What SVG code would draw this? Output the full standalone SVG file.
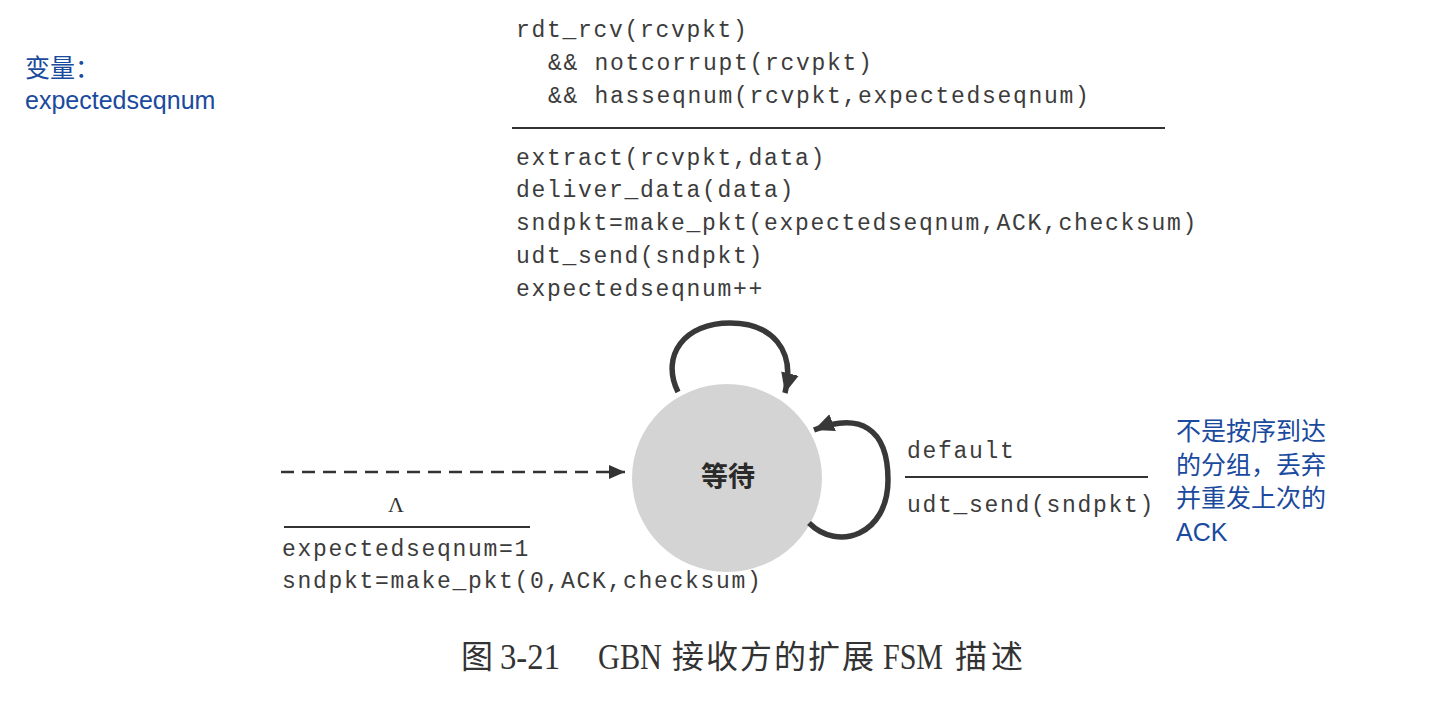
<svg xmlns="http://www.w3.org/2000/svg" width="1432" height="702" viewBox="0 0 1432 702">
<style>
.mono{font-family:"Liberation Mono","DejaVu Sans Mono",monospace;font-size:23px;letter-spacing:1.7px;fill:#3c3c3c}
.blue{font-family:"Liberation Sans","Noto Sans CJK SC",sans-serif;font-size:25px;fill:#1a4a9e}
.rule{stroke:#333;stroke-width:2.2}
.loop{fill:none;stroke:#383838;stroke-width:5.5}
.cap{font-family:"Liberation Serif","Noto Sans CJK SC",serif;font-size:36px;fill:#333}
.capz{font-family:"Noto Sans CJK SC",serif;font-size:32px;fill:#333}
</style>
<defs>
<marker id="ah" markerUnits="userSpaceOnUse" markerWidth="22" markerHeight="22" viewBox="0 0 22 22" refX="20" refY="11" orient="auto">
<path d="M0,2 L20,11 L0,20 Z" fill="#383838"/>
</marker>
<marker id="ahs" markerUnits="userSpaceOnUse" markerWidth="18" markerHeight="18" viewBox="0 0 18 18" refX="16" refY="9" orient="auto">
<path d="M0,2 L16,9 L0,16 Z" fill="#333"/>
</marker>
</defs>
<rect width="1432" height="702" fill="#fff"/>

<g id="note-vars">
<text class="blue" x="25" y="77">变量：</text>
<text class="blue" x="25" y="109">expectedseqnum</text>
</g>

<g id="label-top">
<text class="mono" x="516" y="37">rdt_rcv(rcvpkt)</text>
<text class="mono" x="548" y="70">&amp;&amp; notcorrupt(rcvpkt)</text>
<text class="mono" x="548" y="103">&amp;&amp; hasseqnum(rcvpkt,expectedseqnum)</text>
<line class="rule" x1="512" y1="128" x2="1165" y2="128"/>
<text class="mono" x="516" y="165">extract(rcvpkt,data)</text>
<text class="mono" x="516" y="197">deliver_data(data)</text>
<text class="mono" x="516" y="230">sndpkt=make_pkt(expectedseqnum,ACK,checksum)</text>
<text class="mono" x="516" y="263">udt_send(sndpkt)</text>
<text class="mono" x="516" y="296">expectedseqnum++</text>
</g>

<g id="state-wait">
<ellipse cx="727" cy="478" rx="95" ry="94" fill="#d4d4d4"/>
<text x="728" y="486" text-anchor="middle" font-family="Noto Sans CJK SC, sans-serif" font-weight="bold" font-size="27" fill="#2a2a2a">等待</text>
</g>

<g id="connectors">
<line x1="281" y1="472" x2="625" y2="472" stroke="#333" stroke-width="2.5" stroke-dasharray="13,8" marker-end="url(#ahs)"/>
<path class="loop" d="M678,392 C660,355 685,323 730,323 C772,323 796,350 785,393" marker-end="url(#ah)"/>
<path class="loop" d="M809,523 C838,552 888,535 888,480 C888,428 860,412 814,430" marker-end="url(#ah)"/>
</g>

<g id="label-init">
<text x="396" y="512" text-anchor="middle" font-family="Liberation Serif, serif" font-size="22" fill="#333">Λ</text>
<line class="rule" x1="284" y1="527" x2="530" y2="527"/>
<text class="mono" x="282" y="556">expectedseqnum=1</text>
<text class="mono" x="282" y="588">sndpkt=make_pkt(0,ACK,checksum)</text>
</g>

<g id="label-default">
<text class="mono" x="907" y="458">default</text>
<line class="rule" x1="905" y1="477" x2="1148" y2="477"/>
<text class="mono" x="907" y="512">udt_send(sndpkt)</text>
</g>

<g id="note-default">
<text class="blue" x="1176" y="440">不是按序到达</text>
<text class="blue" x="1176" y="474">的分组，丢弃</text>
<text class="blue" x="1176" y="507">并重发上次的</text>
<text class="blue" x="1176" y="541">ACK</text>
</g>

<g id="caption">
<text class="capz" x="461" y="668">图</text>
<text class="cap" x="500" y="669" textLength="60" lengthAdjust="spacingAndGlyphs">3-21</text>
<text class="cap" x="598" y="669" textLength="64" lengthAdjust="spacingAndGlyphs">GBN</text>
<text class="capz" x="672" y="668" letter-spacing="2">接收方的扩展</text>
<text class="cap" x="883" y="669" textLength="60" lengthAdjust="spacingAndGlyphs">FSM</text>
<text class="capz" x="955" y="668" letter-spacing="4">描述</text>
</g>
</svg>
